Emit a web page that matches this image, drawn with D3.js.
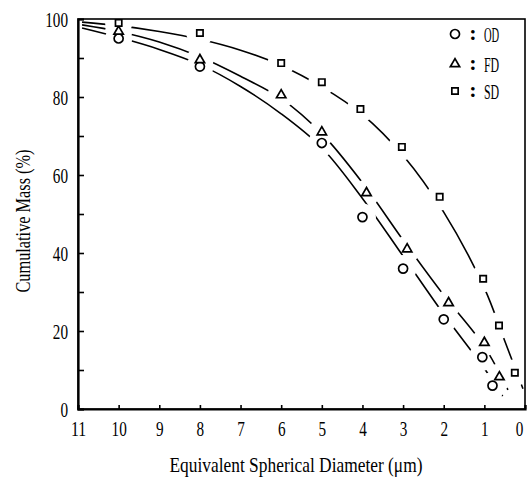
<!DOCTYPE html>
<html>
<head>
<meta charset="utf-8">
<script src="https://cdn.jsdelivr.net/npm/d3@7"></script>
<style>
  body { margin: 0; background: #fff; }
  svg { display: block; }
  text { font-family: "Liberation Serif", "DejaVu Serif", serif; fill: #000; }
</style>
</head>
<body>
<div id="chart"></div>
<script>
// axis ticks
const xTicks = [11, 10, 9, 8, 7, 6, 5, 4, 3, 2, 1, 0];
const yTicks = [0, 10, 20, 30, 40, 50, 60, 70, 80, 90, 100];

// measured points (diameter in um, cumulative mass %)
const odX = [10, 8, 5, 4, 3, 2, 1.05, 0.8];
const odY = [95, 87.8, 68.2, 49.2, 36, 23, 13.3, 6];
const fdX = [10, 8, 6, 5, 3.9, 2.9, 1.88, 1.0, 0.63];
const fdY = [96.8, 89.5, 80.5, 71, 55.4, 41, 27.2, 17, 8.2];
const sdX = [10, 8, 6, 5, 4.05, 3.03, 2.1, 1.03, 0.64, 0.25];
const sdY = [99, 96.4, 88.7, 83.8, 76.9, 67.2, 54.4, 33.4, 21.4, 9.3];

// fitted curves
const odFitX = [10.9, 10, 9, 8, 7, 6, 5, 4, 3, 2, 1, 0.55];
const odFitY = [97.7, 95.3, 92.2, 88.3, 82.7, 75.7, 67, 54, 39.2, 24.3, 10.4, 3.3];
const fdFitX = [10.9, 10, 9, 8, 7, 6, 5, 4, 3, 2, 1, 0.42];
const fdFitY = [98.5, 96.8, 94.1, 90.3, 85.3, 79.6, 70.6, 58, 43.3, 29.2, 16, 4.9];
const sdFitX = [10.9, 10, 9, 8, 7, 6, 5, 4, 3, 2, 1, 0.5, 0.05];
const sdFitY = [99.2, 98.3, 96.8, 94.8, 92, 88.1, 82.6, 75.5, 65, 50.5, 31, 17.5, 5.2];

const seriesNames = ["OD", "FD", "SD"];

const width = 528, height = 478;
const margin = { top: 19, right: 3, bottom: 69, left: 78 };

const svg = d3.select("#chart").append("svg")
    .attr("width", width)
    .attr("height", height);

const x = d3.scaleLinear().domain([11, 0]).range([margin.left, width - margin.right]);
const y = d3.scaleLinear().domain([0, 100]).range([height - margin.bottom, margin.top]);

const zip = (xs, ys) => xs.map((v, i) => ({ x: v, y: ys[i] }));
const series = [
    { name: "OD", pts: zip(odX, odY), fit: zip(odFitX, odFitY), symbol: "circle" },
    { name: "FD", pts: zip(fdX, fdY), fit: zip(fdFitX, fdFitY), symbol: "triangle" },
    { name: "SD", pts: zip(sdX, sdY), fit: zip(sdFitX, sdFitY), symbol: "square" }
];

// narrow tall lettering like the scan
const charW = 7.6;
function squeeze(sel) {
    sel.attr("textLength", function() { return this.textContent.length * charW; })
       .attr("lengthAdjust", "spacingAndGlyphs");
}

// frame
svg.append("rect")
    .attr("x", x(11)).attr("y", y(100))
    .attr("width", x(0) - x(11)).attr("height", y(0) - y(100))
    .attr("fill", "none").attr("stroke", "#000").attr("stroke-width", 1.6);

// axes
const yAxis = svg.append("g")
    .attr("transform", `translate(${x(11)},0)`)
    .call(d3.axisLeft(y).tickValues(yTicks).tickSize(-6).tickPadding(10)
        .tickFormat(d => d % 20 === 0 ? d : ""));
const xAxis = svg.append("g")
    .attr("transform", `translate(0,${y(0)})`)
    .call(d3.axisBottom(x).tickValues(xTicks).tickSize(-4).tickPadding(11));

[xAxis, yAxis].forEach(a => {
    a.select(".domain").attr("stroke-width", 2.2);
    a.selectAll(".tick line").attr("stroke-width", 1.6);
    a.selectAll("text").attr("font-size", 22).attr("font-family", null).call(squeeze);
});
yAxis.selectAll("text").attr("dy", "0.36em");
// keep the "0" at the right end inside the window
xAxis.selectAll(".tick text").filter(d => d === 0).attr("x", -6);

// gaps in the curves where the markers sit
const defs = svg.append("defs");
series.forEach(s => {
    const m = defs.append("mask").attr("id", "gap-" + s.name)
        .attr("maskUnits", "userSpaceOnUse")
        .attr("x", 0).attr("y", 0).attr("width", width).attr("height", height);
    m.append("rect").attr("width", width).attr("height", height).attr("fill", "#fff");
    m.selectAll("circle").data(s.pts).join("circle")
        .attr("cx", d => x(d.x)).attr("cy", d => y(d.y)).attr("r", 13.5).attr("fill", "#000");
});

const line = d3.line().x(d => x(d.x)).y(d => y(d.y)).curve(d3.curveCatmullRom.alpha(0.5));

series.forEach(s => {
    svg.append("path")
        .datum(s.fit)
        .attr("d", line)
        .attr("fill", "none")
        .attr("stroke", "#000")
        .attr("stroke-width", 1.6)
        .attr("mask", `url(#gap-${s.name})`);
});

const symbolType = { circle: d3.symbolCircle, triangle: d3.symbolTriangle, square: d3.symbolSquare };
const symbolSize = { circle: 64, triangle: 38, square: 40 };

function drawMarker(g, kind) {
    g.append("path")
        .attr("d", d3.symbol().type(symbolType[kind]).size(symbolSize[kind]))
        .attr("fill", "#fff")
        .attr("stroke", "#000")
        .attr("stroke-width", 1.7);
}

series.forEach(s => {
    svg.append("g").selectAll("g").data(s.pts).join("g")
        .attr("transform", d => `translate(${x(d.x)},${y(d.y)})`)
        .each(function() { drawMarker(d3.select(this), s.symbol); });
});

// legend
const legendY = [34, 64, 91];
series.forEach((s, i) => {
    const g = svg.append("g").attr("transform", `translate(455,${legendY[i]})`);
    drawMarker(g, s.symbol);
    g.append("text").attr("x", 18).attr("y", 6).attr("font-size", 22)
        .attr("font-weight", "bold").attr("text-anchor", "middle").text(":");
    g.append("text").attr("x", 29).attr("y", 8).attr("font-size", 22)
        .text(seriesNames[i]).call(squeeze);
});

// axis titles
svg.append("text")
    .attr("x", 296).attr("y", 472)
    .attr("text-anchor", "middle").attr("font-size", 22)
    .attr("textLength", 253).attr("lengthAdjust", "spacingAndGlyphs")
    .text("Equivalent Spherical Diameter (\u03bcm)");

svg.append("text")
    .attr("transform", "translate(30,221) rotate(-90)")
    .attr("text-anchor", "middle").attr("font-size", 22)
    .attr("textLength", 143).attr("lengthAdjust", "spacingAndGlyphs")
    .text("Cumulative Mass (%)");
</script>
</body>
</html>
